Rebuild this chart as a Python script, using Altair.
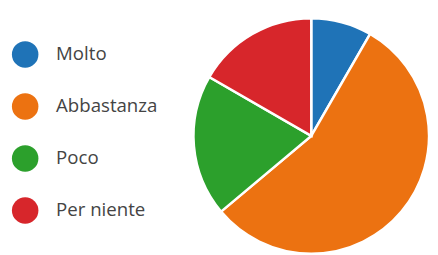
import altair as alt
import pandas as pd

categories = ["Molto", "Abbastanza", "Poco", "Per niente"]
values = [3, 20, 7, 6]
colors = ["#1f73b7", "#ec7211", "#2ca02c", "#d7262b"]

df = pd.DataFrame({"categoria": categories, "valore": values, "ordine": list(range(len(categories)))})

chart = alt.Chart(df).mark_arc(stroke="white", strokeWidth=2.5, radius=120).encode(
    theta=alt.Theta("valore:Q", stack=True),
    order=alt.Order("ordine:Q"),
    color=alt.Color(
        "categoria:N",
        sort=categories,
        scale=alt.Scale(domain=categories, range=colors),
        legend=alt.Legend(
            title=None,
            orient="none",
            legendX=4,
            legendY=31.5,
            symbolType="circle",
            symbolSize=729,
            symbolStrokeWidth=0,
            labelFontSize=19,
            labelFont="Open Sans",
            labelColor="#444444",
            labelOffset=18,
            rowPadding=26,
            padding=0,
        ),
    ),
    x=alt.value(309),
    y=alt.value(128),
).properties(
    width=430,
    height=247,
    autosize=alt.AutoSizeParams(type="none"),
    padding=0,
).configure_view(stroke=None)

chart.save("out.html", embed_options={"renderer": "svg", "actions": False})
